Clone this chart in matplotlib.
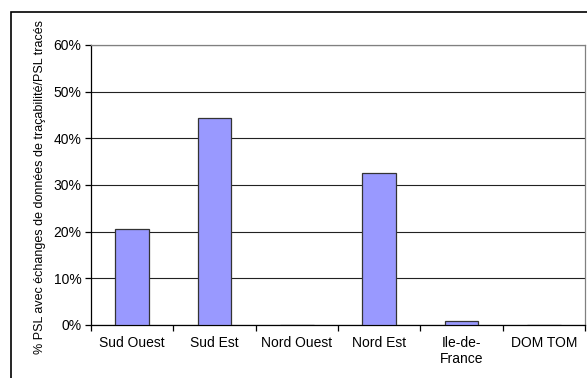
import matplotlib.pyplot as plt
from matplotlib.patches import Rectangle
from matplotlib.ticker import FuncFormatter, FixedLocator

plt.rcParams['font.family'] = ['Liberation Sans', 'DejaVu Sans']

regions = ["Sud Ouest", "Sud Est", "Nord Ouest", "Nord Est", "Ile-de-\nFrance", "DOM TOM"]
shares = [0.205, 0.444, 0.0, 0.326, 0.009, 0.0]
yticks = [0.0, 0.1, 0.2, 0.3, 0.4, 0.5, 0.6]

W, H = 587, 378
fig = plt.figure(figsize=(W / 100, H / 100), dpi=100)

# outer chart frame (runs off the right and bottom edges)
fig.patches.append(Rectangle((11 / W, -0.1), 1.2, 1.1 - 12 / H + 0.0,
                             transform=fig.transFigure, fill=False,
                             edgecolor='black', linewidth=1.2))

ax = fig.add_axes([91 / W, 1 - 325 / H, (585 - 91) / W, (325 - 45) / H])

x = list(range(len(regions)))
ax.bar(x, shares, width=0.41, color='#9999ff', edgecolor='#333333',
       linewidth=0.9, zorder=3)

ax.set_xlim(-0.5, len(regions) - 0.5)
ax.set_ylim(0, 0.6)
ax.set_yticks(yticks)
ax.yaxis.set_major_formatter(FuncFormatter(lambda v, p: f"{v * 100:.0f}%"))
ax.yaxis.grid(True, color='#222222', linewidth=0.8, zorder=0)

ax.set_xticks(x)
ax.set_xticklabels(regions, fontsize=10, linespacing=1.15)
ax.xaxis.set_minor_locator(FixedLocator([i - 0.5 for i in range(len(regions) + 1)]))
ax.tick_params(axis='x', which='major', length=0, pad=8)
ax.tick_params(axis='x', which='minor', length=4, direction='out', width=0.9)
ax.tick_params(axis='y', length=4, direction='out', width=0.9, labelsize=10, pad=3)

for side in ('top', 'right'):
    ax.spines[side].set_color('#808080')
    ax.spines[side].set_linewidth(0.9)
for side in ('left', 'bottom'):
    ax.spines[side].set_color('black')
    ax.spines[side].set_linewidth(0.9)

fig.text(40 / W, 1 - 187 / H,
         "% PSL avec échanges de données de traçabilité/PSL tracés",
         rotation=90, ha='center', va='center', fontsize=9)

fig.savefig('out.png', dpi=100)
